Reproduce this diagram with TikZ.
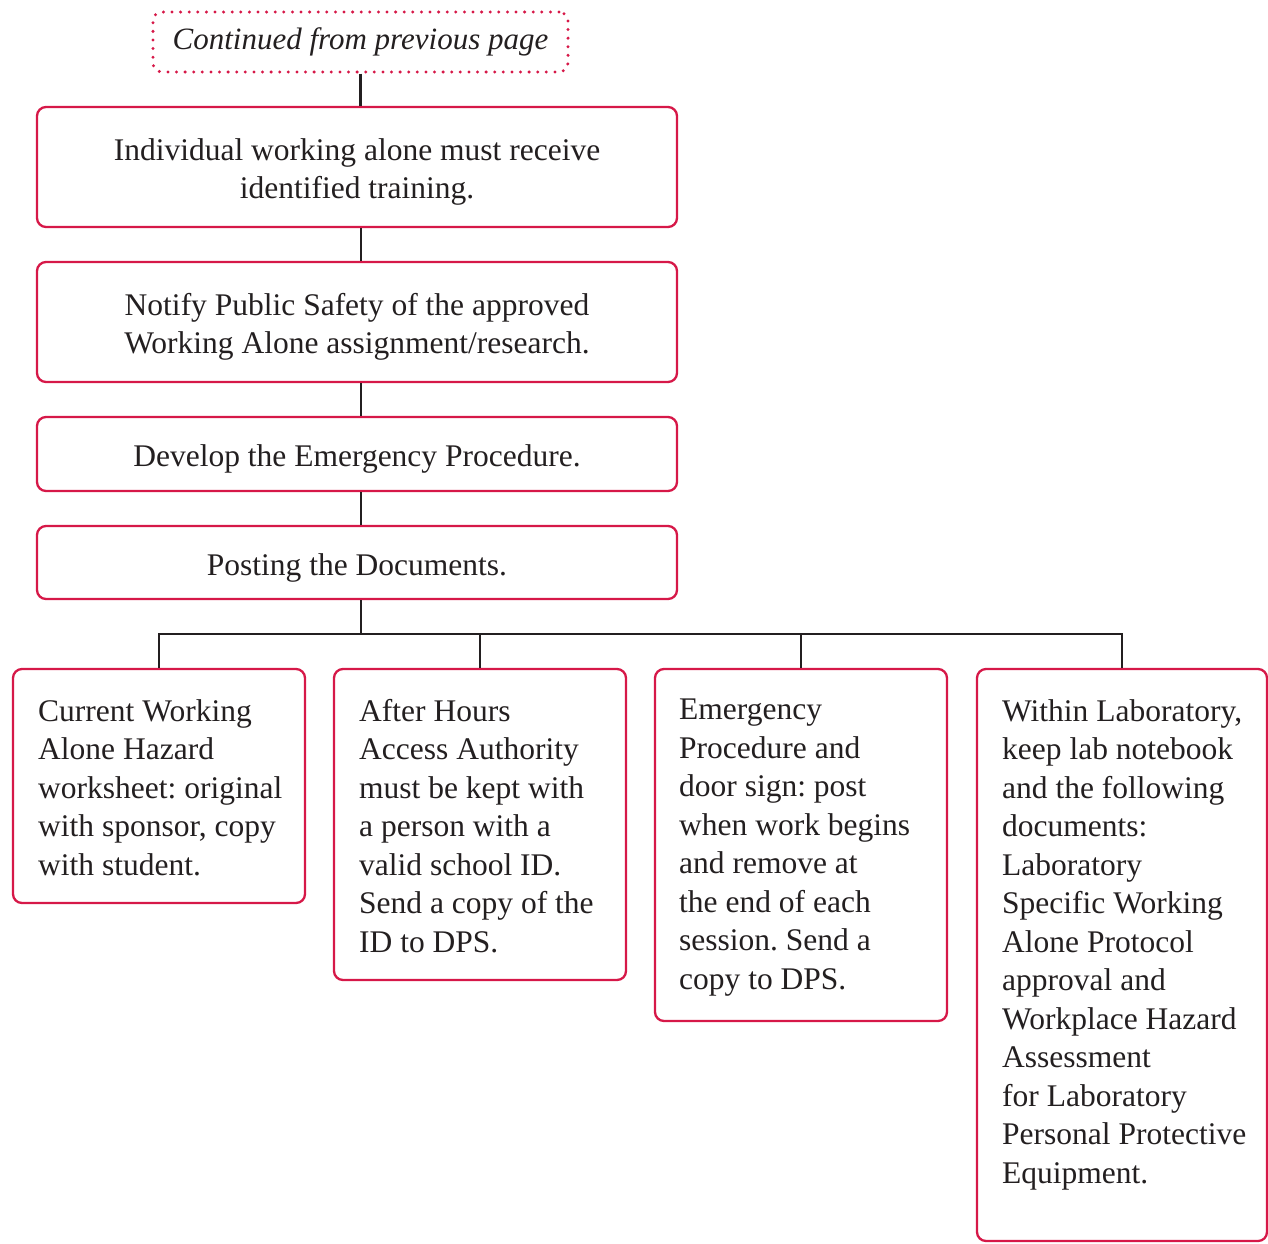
\documentclass[tikz,border=0pt]{standalone}
\usepackage{fontspec}
\setmainfont{Liberation Serif}
\frenchspacing
\definecolor{crim}{RGB}{214,24,72}
\definecolor{ink}{RGB}{35,31,32}
\tikzset{
  box/.style={draw=crim, line width=2.3pt, rounded corners=9pt, inner sep=0pt},
  conn/.style={draw=ink, line width=2.8pt},
  txt/.style={font=\fontsize{31.5}{38.5}\selectfont, text=ink},
  ctxt/.style={txt, align=center, inner sep=0pt, yshift=-5pt},
  ltxt/.style={txt, align=left, anchor=north west, inner sep=0pt},
}
\begin{document}
\begin{tikzpicture}[x=1pt,y=-1pt]
\useasboundingbox (0,0) rectangle (1268,1243);
\clip (0,0) rectangle (1268,1243);
\node[box, dash pattern=on 0pt off 8.6pt, line cap=round, line width=3.3pt,
  minimum width=415pt, minimum height=60pt, txt, font=\fontsize{31}{38.5}\selectfont\itshape] (top) at (360.5,42) {Continued from previous page};
\node[box, minimum width=640pt, minimum height=120pt,
  label={[ctxt]center:Individual working alone must receive\\identified training.}] (b1) at (357,167) {};
\node[box, minimum width=640pt, minimum height=120pt,
  label={[ctxt]center:Notify Public Safety of the approved\\Working Alone assignment/research.}] (b2) at (357,322) {};
\node[box, minimum width=640pt, minimum height=74pt,
  label={[ctxt]center:Develop the Emergency Procedure.}] (b3) at (357,454) {};
\node[box, minimum width=640pt, minimum height=73pt,
  label={[ctxt]center:Posting the Documents.}] (b4) at (357,562.5) {};
\coordinate (hub) at (361,634);
\node[box, minimum width=292pt, minimum height=234pt] (c1) at (159,786) {};
\node[box, minimum width=292pt, minimum height=311pt] (c2) at (480,824.5) {};
\node[box, minimum width=292pt, minimum height=352pt] (c3) at (801,845) {};
\node[box, minimum width=290pt, minimum height=572pt] (c4) at (1122,955) {};
\node[ltxt] (t1) at (38,699) {Current Working\\Alone Hazard\\worksheet: original\\with sponsor, copy\\with student.};
\node[ltxt] (t2) at (359,699) {After Hours\\Access Authority\\must be kept with\\a person with a\\valid school ID.\\Send a copy of the\\ID to DPS.};
\node[ltxt] (t3) at (679,699) {Emergency\\Procedure and\\door sign: post\\when work begins\\and remove at\\the end of each\\session. Send a\\copy to DPS.};
\node[ltxt] (t4) at (1002,699) {Within Laboratory,\\keep lab notebook\\and the following\\documents:\\Laboratory\\Specific Working\\Alone Protocol\\approval and\\Workplace Hazard\\Assessment\\for Laboratory\\Personal Protective\\Equipment.};
\draw[conn] (top.south) -- (top.south |- b1.north);
\draw[conn] (b1.south -| hub) -- (b2.north -| hub);
\draw[conn] (b2.south -| hub) -- (b3.north -| hub);
\draw[conn] (b3.south -| hub) -- (b4.north -| hub);
\draw[conn] (b4.south -| hub) -- (hub);
\draw[conn] (c1.north) -- (c1.north |- hub) -- (c4.north |- hub) -- (c4.north);
\draw[conn] (c2.north) -- (c2.north |- hub);
\draw[conn] (c3.north) -- (c3.north |- hub);
\end{tikzpicture}
\end{document}
